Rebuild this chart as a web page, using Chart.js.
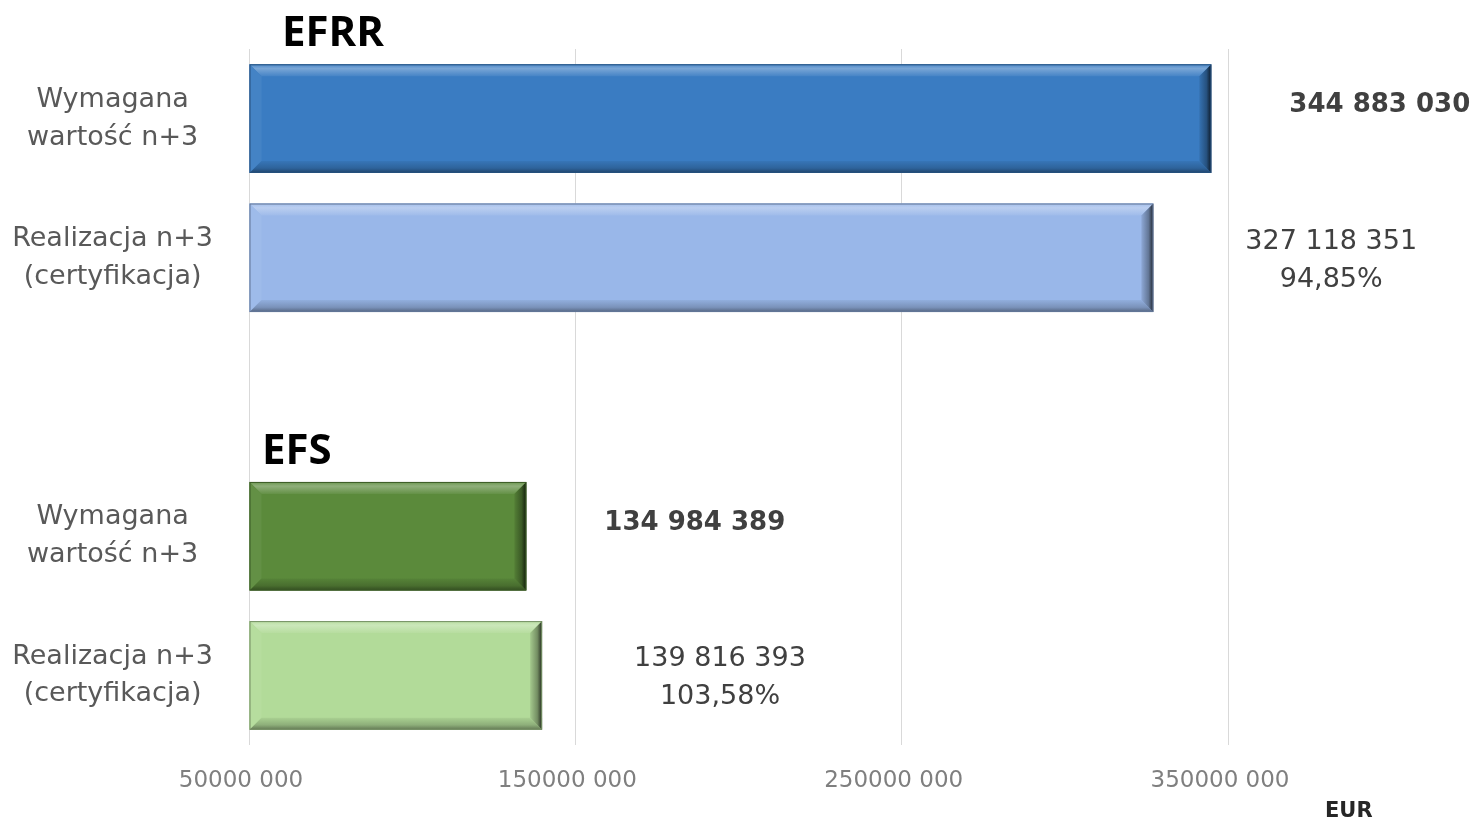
<!DOCTYPE html>
<html>
<head>
<meta charset="utf-8">
<script src="https://cdn.jsdelivr.net/npm/chart.js@4"></script>
<style>
  html, body { margin: 0; padding: 0; background: #fff; }
  #wrap { width: 1476px; height: 823px; }
</style>
</head>
<body>
<div id="wrap"><canvas id="wykres" width="1476" height="823"></canvas></div>
<script>
// dane
const kategorie = [
  ['Wymagana', 'wartość n+3'],
  ['Realizacja n+3', '(certyfikacja)'],
  '',
  ['Wymagana', 'wartość n+3'],
  ['Realizacja n+3', '(certyfikacja)']
];
const wartosci = [344883030, 327118351, null, 134984389, 139816393];
const rodzaj = ['wymagana', 'realizacja', null, 'wymagana', 'realizacja'];
const kolory = ['#3a7cc2', '#99b7e9', null, '#5b8a3b', '#b2db99'];
const grupy = ['EFRR', 'EFS'];
const grupyStart = [0, 3];
const tickiX = [50000000, 150000000, 250000000, 350000000];
const xMin = 50000000;
const xMax = 350000000;

const FONT = "'DejaVu Sans', sans-serif";
const FONT_TYT = "'Open Sans', sans-serif";

function mieszaj(hex, cel, t) {
  const a = parseInt(hex.slice(1), 16);
  const b = parseInt(cel.slice(1), 16);
  const ch = (v, s) => (v >> s) & 255;
  const r = Math.round(ch(a, 16) + (ch(b, 16) - ch(a, 16)) * t);
  const g = Math.round(ch(a, 8) + (ch(b, 8) - ch(a, 8)) * t);
  const bl = Math.round(ch(a, 0) + (ch(b, 0) - ch(a, 0)) * t);
  return `rgb(${r},${g},${bl})`;
}

function formatuj(v) {
  return String(v).replace(/\B(?=(\d{3})+(?!\d))/g, ' ');
}

// efekt fazy (bevel) jak w Excelu
const fazaPlugin = {
  id: 'faza',
  afterDatasetsDraw(chart) {
    const ctx = chart.ctx;
    const meta = chart.getDatasetMeta(0);
    meta.data.forEach((bar, i) => {
      if (wartosci[i] == null) return;
      const c = kolory[i];
      const L = bar.base, R = bar.x;
      const T = bar.y - bar.height / 2, B = bar.y + bar.height / 2;
      const b = 12;
      ctx.save();
      // góra
      const gt = ctx.createLinearGradient(0, T, 0, T + b);
      gt.addColorStop(0, mieszaj(c, '#ffffff', 0.1));
      gt.addColorStop(0.35, mieszaj(c, '#ffffff', 0.32));
      gt.addColorStop(1, mieszaj(c, '#ffffff', 0.06));
      ctx.fillStyle = gt;
      ctx.beginPath();
      ctx.moveTo(L, T); ctx.lineTo(R, T); ctx.lineTo(R - b, T + b); ctx.lineTo(L + b, T + b);
      ctx.closePath(); ctx.fill();
      // lewo
      ctx.fillStyle = mieszaj(c, '#ffffff', 0.05);
      ctx.beginPath();
      ctx.moveTo(L, T); ctx.lineTo(L + b, T + b); ctx.lineTo(L + b, B - b); ctx.lineTo(L, B);
      ctx.closePath(); ctx.fill();
      // dół
      const gb = ctx.createLinearGradient(0, B - b, 0, B);
      gb.addColorStop(0, mieszaj(c, '#000000', 0.05));
      gb.addColorStop(0.6, mieszaj(c, '#000000', 0.2));
      gb.addColorStop(1, mieszaj(c, '#000000', 0.45));
      ctx.fillStyle = gb;
      ctx.beginPath();
      ctx.moveTo(L, B); ctx.lineTo(R, B); ctx.lineTo(R - b, B - b); ctx.lineTo(L + b, B - b);
      ctx.closePath(); ctx.fill();
      // prawo
      const gr = ctx.createLinearGradient(R - b, 0, R, 0);
      gr.addColorStop(0, mieszaj(c, '#000000', 0.08));
      gr.addColorStop(0.6, mieszaj(c, '#000000', 0.35));
      gr.addColorStop(1, mieszaj(c, '#000000', 0.8));
      ctx.fillStyle = gr;
      ctx.beginPath();
      ctx.moveTo(R, T); ctx.lineTo(R, B); ctx.lineTo(R - b, B - b); ctx.lineTo(R - b, T + b);
      ctx.closePath(); ctx.fill();
      // obrys
      ctx.strokeStyle = mieszaj(c, '#000000', 0.35);
      ctx.lineWidth = 1;
      ctx.strokeRect(L + 0.5, T + 0.5, R - L - 1, B - T - 1);
      ctx.restore();
    });
  }
};

const opisyPlugin = {
  id: 'opisy',
  afterDraw(chart) {
    const ctx = chart.ctx;
    const meta = chart.getDatasetMeta(0);
    ctx.save();
    ctx.textBaseline = 'middle';
    ctx.fillStyle = '#404040';
    meta.data.forEach((bar, i) => {
      if (wartosci[i] == null) return;
      if (rodzaj[i] === 'wymagana') {
        ctx.font = `bold 26px ${FONT}`;
        ctx.textAlign = 'left';
        ctx.fillText(formatuj(wartosci[i]), bar.x + 78, bar.y - 13);
      } else {
        const proc = (wartosci[i] / wartosci[i - 1] * 100).toFixed(2).replace('.', ',') + '%';
        ctx.font = `27px ${FONT}`;
        const linia1 = formatuj(wartosci[i]);
        const w = ctx.measureText(linia1).width;
        ctx.textAlign = 'center';
        ctx.fillText(linia1, bar.x + 92 + w / 2, bar.y - 16);
        ctx.fillText(proc, bar.x + 92 + w / 2, bar.y + 22);
      }
    });
    // tytuły grup
    const offsety = [33, 13];
    ctx.font = `bold 42px ${FONT_TYT}`;
    ctx.fillStyle = '#000000';
    ctx.textAlign = 'left';
    ctx.textBaseline = 'alphabetic';
    grupy.forEach((g, k) => {
      const bar = meta.data[grupyStart[k]];
      ctx.fillText(g, chart.chartArea.left + offsety[k], bar.y - bar.height / 2 - 18);
    });
    // jednostka
    ctx.font = `bold 21px ${FONT}`;
    ctx.fillStyle = '#262626';
    ctx.textBaseline = 'middle';
    ctx.fillText('EUR', chart.chartArea.right + 97, 812);
    ctx.restore();
  }
};

const ctx = document.getElementById('wykres').getContext('2d');

new Chart(ctx, {
  type: 'bar',
  data: {
    labels: kategorie,
    datasets: [{
      data: wartosci,
      base: xMin,
      backgroundColor: kolory,
      borderWidth: 0,
      barPercentage: 0.78,
      categoryPercentage: 1
    }]
  },
  options: {
    indexAxis: 'y',
    responsive: false,
    animation: false,
    layout: { padding: { top: 49, right: 248, bottom: 0, left: 0 } },
    plugins: {
      legend: { display: false },
      tooltip: { enabled: false }
    },
    scales: {
      x: {
        min: xMin,
        max: xMax,
        afterBuildTicks: (scale) => { scale.ticks = tickiX.map(v => ({ value: v })); },
        afterFit: (scale) => { scale.height = 78; },
        grid: { color: '#d9d9d9', lineWidth: 1, drawTicks: false },
        border: { display: false },
        ticks: {
          padding: 22,
          labelOffset: -8,
          maxRotation: 0,
          color: '#7f7f7f',
          font: { family: FONT, size: 23 },
          callback: (v) => Math.round(v / 1000) + ' 000'
        }
      },
      y: {
        afterFit: (scale) => {
          scale.width = 249;
          scale.paddingTop = 0;
          scale.paddingBottom = 0;
        },
        grid: { display: false, drawTicks: false },
        border: { display: false },
        ticks: {
          padding: 36,
          crossAlign: 'center',
          color: '#595959',
          font: { family: FONT, size: 27, lineHeight: 1.4 }
        }
      }
    }
  },
  plugins: [fazaPlugin, opisyPlugin]
});
</script>
</body>
</html>
